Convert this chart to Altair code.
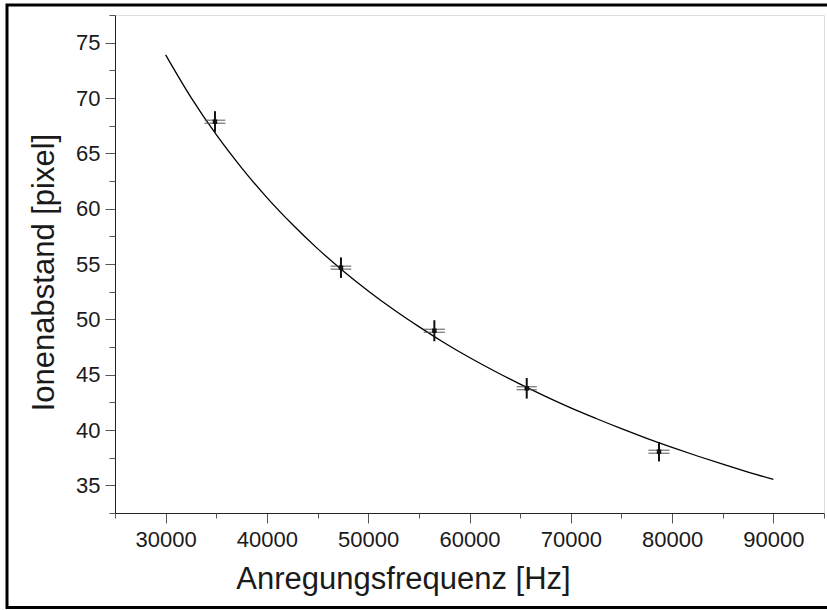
import altair as alt
import pandas as pd

# measured points
freq = [34870, 47310, 56530, 65650, 78710]
dist = [67.86, 54.67, 48.97, 43.77, 38.04]
freq_err = [1030, 1020, 1040, 1000, 1040]
dist_err = [0.95, 0.93, 0.95, 0.93, 0.88]

# fit curve
fit_f = [30000, 32500, 35000, 37500, 40000, 42500, 45000, 47500, 50000, 52500,
         55000, 57500, 60000, 62500, 65000, 67500, 70000, 72500, 75000, 77500,
         80000, 82500, 85000, 87500, 90000]
fit_y = [73.90, 70.06, 66.68, 63.69, 61.00, 58.59, 56.39, 54.40, 52.57, 50.89,
         49.34, 47.89, 46.55, 45.31, 44.14, 43.04, 42.00, 41.04, 40.12, 39.25,
         38.43, 37.65, 36.91, 36.20, 35.53]

x_major = [30000, 40000, 50000, 60000, 70000, 80000, 90000]
x_minor = [25000, 35000, 45000, 55000, 65000, 75000, 85000, 95000]
y_major = [35, 40, 45, 50, 55, 60, 65, 70, 75]
y_minor = [32.5, 37.5, 42.5, 47.5, 52.5, 57.5, 62.5, 67.5, 72.5, 77.5]

pts = pd.DataFrame({"f": freq, "d": dist})
pts["f_lo"] = [a - b for a, b in zip(freq, freq_err)]
pts["f_hi"] = [a + b for a, b in zip(freq, freq_err)]
pts["d_lo"] = [a - b for a, b in zip(dist, dist_err)]
pts["d_hi"] = [a + b for a, b in zip(dist, dist_err)]
fit = pd.DataFrame({"f": fit_f, "d": fit_y})

FONT = "Liberation Sans"
xs = alt.Scale(domain=[25000, 95000], nice=False, zero=False)
ys = alt.Scale(domain=[32.5, 77.5], nice=False, zero=False)

main_x = alt.Axis(values=x_major, tickSize=10, labelFontSize=22, labelPadding=6,
                  labelColor="#1a1a1a", labelFont=FONT, format="d",
                  domainColor="#222", tickColor="#555", grid=False,
                  title="Anregungsfrequenz [Hz]", titleFont=FONT, titleFontSize=31,
                  titleFontWeight="normal", titleColor="#1a1a1a",
                  titleBaseline="alphabetic", titleAlign="center",
                  titleX=288, titleY=75, orient="bottom")
main_y = alt.Axis(values=y_major, tickSize=10, labelFontSize=22, labelPadding=5,
                  labelColor="#1a1a1a", labelFont=FONT,
                  domainColor="#222", tickColor="#555", grid=False,
                  title="Ionenabstand [pixel]", titleFont=FONT, titleFontSize=31,
                  titleFontWeight="normal", titleColor="#1a1a1a",
                  titleBaseline="alphabetic", titleAlign="center", titleAngle=270,
                  titleX=-62, titleY=257, orient="left")
minor_x = alt.Axis(values=x_minor, tickSize=5, labels=False, domain=False,
                   tickColor="#555", grid=False, title=None, orient="bottom")
minor_y = alt.Axis(values=y_minor, tickSize=6, labels=False, domain=False,
                   tickColor="#555", grid=False, title=None, orient="left")

base = alt.Chart(pts)

curve = alt.Chart(fit).mark_line(color="black", strokeWidth=1.3,
                                 interpolate="monotone").encode(
    x=alt.X("f:Q", scale=xs, axis=main_x),
    y=alt.Y("d:Q", scale=ys, axis=main_y),
)

minor = base.mark_point(opacity=0).encode(
    x=alt.X("f:Q", scale=xs, axis=minor_x),
    y=alt.Y("d:Q", scale=ys, axis=minor_y),
)

h1 = base.mark_rule(color="#555", strokeWidth=1, yOffset=-1.5).encode(
    x=alt.X("f_lo:Q", scale=xs, axis=None), x2="f_hi:Q",
    y=alt.Y("d:Q", scale=ys, axis=None),
)
h2 = base.mark_rule(color="#555", strokeWidth=1, yOffset=1.5).encode(
    x=alt.X("f_lo:Q", scale=xs, axis=None), x2="f_hi:Q",
    y=alt.Y("d:Q", scale=ys, axis=None),
)
v = base.mark_rule(color="#111", strokeWidth=2).encode(
    x=alt.X("f:Q", scale=xs, axis=None),
    y=alt.Y("d_lo:Q", scale=ys, axis=None), y2="d_hi:Q",
)
dots = base.mark_square(color="#111", size=20, opacity=1).encode(
    x=alt.X("f:Q", scale=xs, axis=None),
    y=alt.Y("d:Q", scale=ys, axis=None),
)

frame = alt.Chart(pd.DataFrame({"k": [0]})).mark_rect(
    fill=None, stroke="black", strokeWidth=3, clip=False
).encode(
    x=alt.value(-108), x2=alt.value(800),
    y=alt.value(-10), y2=alt.value(592.5),
)

chart = alt.layer(curve, minor, h1, h2, v, dots, frame).resolve_axis(
    x="independent", y="independent"
).properties(
    width=709, height=498,
    autosize=alt.AutoSizeParams(type="none"),
    padding={"left": 115, "top": 15, "right": 3, "bottom": 97},
).configure_view(stroke=None).configure(background="white")

chart.save("out.html", embed_options={"renderer": "svg", "actions": False})
